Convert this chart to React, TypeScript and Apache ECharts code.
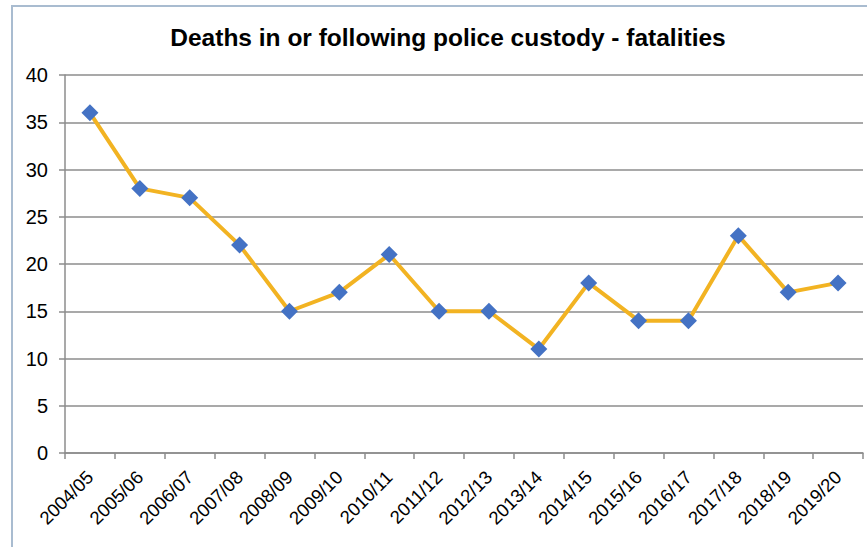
import React, { useEffect, useRef } from "react";
import * as echarts from "echarts";

const titleText = "Deaths in or following police custody - fatalities";
const categories = [
  "2004/05", "2005/06", "2006/07", "2007/08", "2008/09", "2009/10", "2010/11", "2011/12",
  "2012/13", "2013/14", "2014/15", "2015/16", "2016/17", "2017/18", "2018/19", "2019/20",
];
const fatalities = [36, 28, 27, 22, 15, 17, 21, 15, 15, 11, 18, 14, 14, 23, 17, 18];
const yMin = 0;
const yMax = 40;
const yStep = 5;

export default function App() {
  const ref = useRef<HTMLDivElement>(null);
  useEffect(() => {
    if (!ref.current) return;
    const chart = echarts.init(ref.current, undefined, { renderer: "svg" });
    const font = "Liberation Sans, Arial, Helvetica, sans-serif";
    chart.setOption({
      animation: false,
      backgroundColor: "#ffffff",
      graphic: [
        {
          type: "rect",
          shape: { x: 12, y: 6, width: 900, height: 600 },
          style: { fill: "none", stroke: "#A9BCD0", lineWidth: 2 },
          silent: true,
          z: -1,
        },
        {
          type: "text",
          x: 448,
          y: 37,
          style: {
            text: titleText,
            fontFamily: font,
            fontSize: 24.5,
            fontWeight: "bold",
            fill: "#000",
            textAlign: "center",
            textVerticalAlign: "middle",
          },
        },
      ],
      grid: { left: 65, top: 75, right: 4, bottom: 94, containLabel: false },
      xAxis: {
        type: "category",
        data: categories,
        boundaryGap: true,
        axisLine: { show: true, lineStyle: { color: "#8c8c8c", width: 1.5 } },
        axisTick: { show: true, alignWithLabel: false, length: 6, lineStyle: { color: "#8c8c8c", width: 1.5 } },
        axisLabel: {
          rotate: 45,
          interval: 0,
          margin: 21,
          fontFamily: font,
          fontSize: 18.5,
          color: "#000",
        },
        splitLine: { show: false },
      },
      yAxis: {
        type: "value",
        min: yMin,
        max: yMax,
        interval: yStep,
        axisLine: { show: true, lineStyle: { color: "#8c8c8c", width: 1.5 } },
        axisTick: { show: true, length: 6, lineStyle: { color: "#8c8c8c", width: 1.5 } },
        axisLabel: { margin: 17, fontFamily: font, fontSize: 20, color: "#000" },
        splitLine: { show: true, lineStyle: { color: "#8c8c8c", width: 1.5 } },
      },
      series: [
        {
          type: "line",
          data: fatalities,
          symbol: "diamond",
          symbolSize: 17,
          showAllSymbol: true,
          lineStyle: { color: "#F2B322", width: 4 },
          itemStyle: { color: "#4472C4", borderWidth: 0 },
          z: 3,
        },
      ],
    });
    return () => chart.dispose();
  }, []);
  return (
    <div
      ref={ref}
      style={{ position: "fixed", left: 0, top: 0, width: 867, height: 547 }}
    />
  );
}
